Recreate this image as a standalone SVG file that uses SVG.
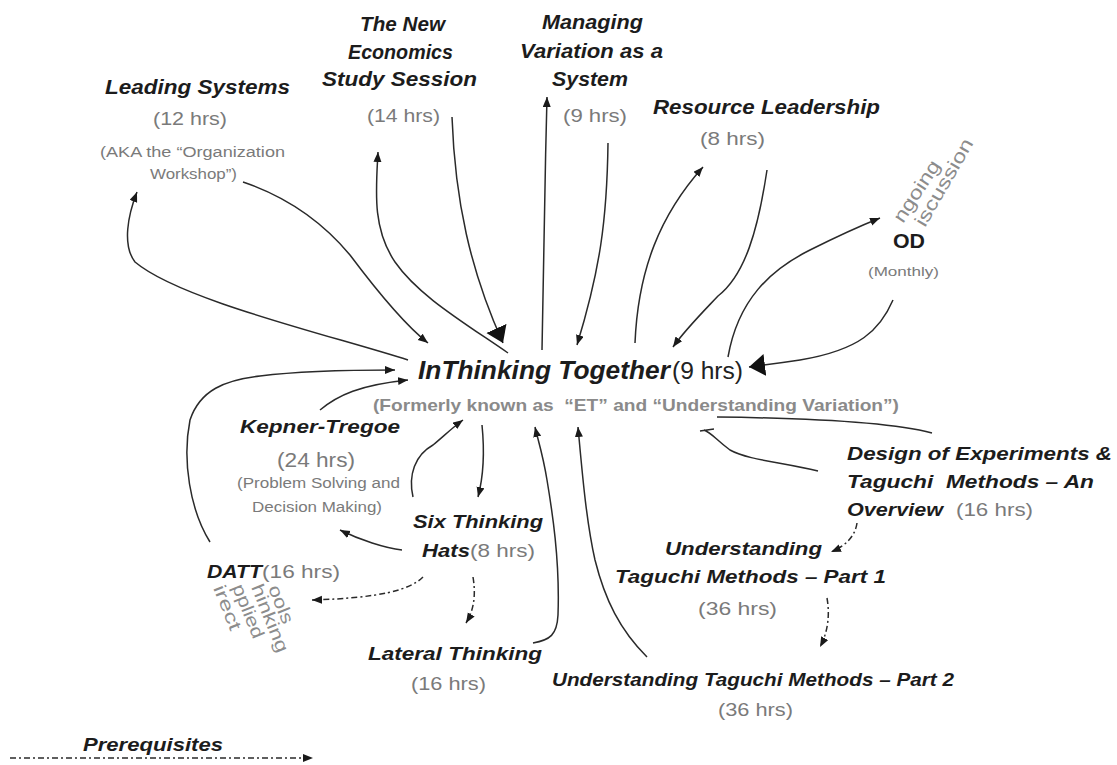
<svg xmlns="http://www.w3.org/2000/svg" width="1117" height="765" viewBox="0 0 1117 765">
<style>
text{font-family:"Liberation Sans",Arial,sans-serif}
.h{font-weight:bold;font-style:italic;fill:#1c1c1c}
.g{fill:#7a7a7a}
.gb{fill:#8a8a8a;font-weight:bold}
.k{fill:#222}
.r{fill:#8c8c8c}
.c{fill:none;stroke:#2a2a2a;stroke-width:1.5}
.dd{stroke-dasharray:6 3 2 3}
</style>
<defs>
<marker id="a" markerUnits="userSpaceOnUse" markerWidth="12" markerHeight="10" refX="10" refY="4" orient="auto"><path d="M0,0 L10,4 L0,8 z" fill="#1a1a1a"/></marker>
<marker id="b" markerUnits="userSpaceOnUse" markerWidth="20" markerHeight="24" refX="16" refY="11" orient="auto"><path d="M0,0 L16,11 L0,22 z" fill="#111"/></marker>
</defs>
<rect width="1117" height="765" fill="#fff"/>

<g id="connectors">
<path class="c" marker-end="url(#a)" d="M408,360 C330,335 180,300 135,262 C122,245 128,215 137,192"/>
<path class="c" marker-end="url(#a)" d="M243,182 C290,198 325,225 350,255 C380,295 405,325 428,343"/>
<path class="c" marker-end="url(#a)" d="M508,353 C460,320 418,295 395,262 C372,228 376,190 378,152"/>
<path class="c" marker-end="url(#b)" d="M452,117 C455,200 470,270 503,343"/>
<path class="c" marker-end="url(#a)" d="M542,350 C543,260 545,180 547,97"/>
<path class="c" marker-end="url(#a)" d="M608,143 C607,220 600,270 577,345"/>
<path class="c" marker-end="url(#a)" d="M635,343 C638,270 660,215 703,167"/>
<path class="c" marker-end="url(#a)" d="M767,170 C758,230 745,275 718,296 C700,315 685,330 673,347"/>
<path class="c" marker-end="url(#a)" d="M728,357 C738,300 770,270 810,250 C840,235 860,226 880,218"/>
<path class="c" marker-end="url(#b)" d="M893,300 C880,330 860,350 800,360 C780,363 765,365 749,367"/>
<path class="c" d="M717,417 C800,418 890,422 932,433"/>
<path class="c" d="M818,471 C780,462 748,460 730,450 C716,440 712,433 704,430 M700,431 L714,429"/>
<path class="c dd" marker-end="url(#a)" d="M857,523 C855,537 845,546 831,552"/>
<path class="c dd" marker-end="url(#a)" d="M827,598 C830,615 828,632 820,647"/>
<path class="c" marker-end="url(#a)" d="M647,657 C620,630 605,600 595,560 C586,520 582,470 578,427"/>
<path class="c" marker-end="url(#a)" d="M533,643 C550,640 557,635 558,615 C560,560 552,510 547,480 C543,455 538,440 535,427"/>
<path class="c" marker-end="url(#a)" d="M482,425 C485,455 483,478 478,497"/>
<path class="c" marker-end="url(#a)" d="M413,497 C408,475 415,455 433,445 C445,435 452,428 463,420"/>
<path class="c" marker-end="url(#a)" d="M402,550 C385,548 360,540 340,530"/>
<path class="c" marker-end="url(#a)" d="M320,410 C338,395 360,385 408,380"/>
<path class="c" marker-end="url(#a)" d="M210,542 C190,510 182,460 190,420 C200,390 225,380 260,376 C300,371 350,370 395,370"/>
<path class="c dd" marker-end="url(#a)" d="M423,577 C410,590 380,598 312,600"/>
<path class="c dd" marker-end="url(#a)" d="M473,577 C476,595 474,610 466,623"/>
<path class="c dd" marker-end="url(#a)" d="M10,758 L313,758"/>
</g>

<g id="leading-systems">
<text class="h" x="105" y="94" font-size="21" textLength="185" lengthAdjust="spacingAndGlyphs">Leading Systems</text>
<text class="g" x="153" y="125" font-size="19" textLength="74" lengthAdjust="spacingAndGlyphs">(12 hrs)</text>
<text class="g" x="100" y="157" font-size="14" textLength="185" lengthAdjust="spacingAndGlyphs">(AKA the “Organization</text>
<text class="g" x="150" y="179" font-size="14" textLength="87" lengthAdjust="spacingAndGlyphs">Workshop”)</text>
</g>

<g id="new-economics">
<text class="h" x="360" y="31" font-size="21" textLength="85" lengthAdjust="spacingAndGlyphs">The New</text>
<text class="h" x="348" y="59" font-size="21" textLength="105" lengthAdjust="spacingAndGlyphs">Economics</text>
<text class="h" x="322" y="86" font-size="21" textLength="155" lengthAdjust="spacingAndGlyphs">Study Session</text>
<text class="g" x="367" y="122" font-size="19" textLength="73" lengthAdjust="spacingAndGlyphs">(14 hrs)</text>
</g>

<g id="managing-variation">
<text class="h" x="542" y="29" font-size="20" textLength="101" lengthAdjust="spacingAndGlyphs">Managing</text>
<text class="h" x="520" y="58" font-size="20" textLength="143" lengthAdjust="spacingAndGlyphs">Variation as a</text>
<text class="h" x="552" y="86" font-size="20" textLength="76" lengthAdjust="spacingAndGlyphs">System</text>
<text class="g" x="563" y="122" font-size="19" textLength="64" lengthAdjust="spacingAndGlyphs">(9 hrs)</text>
</g>

<g id="resource-leadership">
<text class="h" x="653" y="114" font-size="20" textLength="227" lengthAdjust="spacingAndGlyphs">Resource Leadership</text>
<text class="g" x="700" y="145" font-size="19" textLength="65" lengthAdjust="spacingAndGlyphs">(8 hrs)</text>
</g>

<g id="od">
<text class="r" font-size="19" transform="translate(903,224) rotate(-57)" textLength="70" lengthAdjust="spacingAndGlyphs">ngoing</text>
<text class="r" font-size="19" transform="translate(925,228) rotate(-60)" textLength="98" lengthAdjust="spacingAndGlyphs">iscussion</text>
<text x="893" y="248" font-size="20" font-weight="bold" fill="#1c1c1c" textLength="32" lengthAdjust="spacingAndGlyphs">OD</text>
<text class="g" x="868" y="276" font-size="13" textLength="71" lengthAdjust="spacingAndGlyphs">(Monthly)</text>
</g>

<g id="inthinking-together">
<text class="h" x="418" y="379" font-size="25" textLength="252" lengthAdjust="spacingAndGlyphs">InThinking Together</text>
<text class="k" x="672" y="379" font-size="23" textLength="71" lengthAdjust="spacingAndGlyphs">(9 hrs)</text>
<text class="gb" x="373" y="411" font-size="17" textLength="526" lengthAdjust="spacingAndGlyphs" xml:space="preserve">(Formerly known as  “ET” and “Understanding Variation”)</text>
</g>

<g id="kepner-tregoe">
<text class="h" x="240" y="433" font-size="19" textLength="160" lengthAdjust="spacingAndGlyphs">Kepner-Tregoe</text>
<text class="g" x="277" y="467" font-size="20" textLength="78" lengthAdjust="spacingAndGlyphs">(24 hrs)</text>
<text class="g" x="237" y="488" font-size="14" textLength="163" lengthAdjust="spacingAndGlyphs">(Problem Solving and</text>
<text class="g" x="252" y="512" font-size="14" textLength="130" lengthAdjust="spacingAndGlyphs">Decision Making)</text>
</g>

<g id="six-thinking-hats">
<text class="h" x="413" y="528" font-size="19" textLength="130" lengthAdjust="spacingAndGlyphs">Six Thinking</text>
<text class="h" x="422" y="557" font-size="19" textLength="48" lengthAdjust="spacingAndGlyphs">Hats</text>
<text class="g" x="470" y="557" font-size="19" textLength="65" lengthAdjust="spacingAndGlyphs">(8 hrs)</text>
</g>

<g id="datt">
<text class="h" x="207" y="578" font-size="19" textLength="55" lengthAdjust="spacingAndGlyphs">DATT</text>
<text class="g" x="262" y="578" font-size="19" textLength="78" lengthAdjust="spacingAndGlyphs">(16 hrs)</text>
<text class="r" font-size="18" transform="translate(268,588) rotate(68)" textLength="40" lengthAdjust="spacingAndGlyphs">ools</text>
<text class="r" font-size="18" transform="translate(251,587) rotate(68)" textLength="72" lengthAdjust="spacingAndGlyphs">hinking</text>
<text class="r" font-size="18" transform="translate(232,587) rotate(68)" textLength="57" lengthAdjust="spacingAndGlyphs">pplied</text>
<text class="r" font-size="18" transform="translate(213,588) rotate(68)" textLength="47" lengthAdjust="spacingAndGlyphs">irect</text>
</g>

<g id="lateral-thinking">
<text class="h" x="368" y="660" font-size="19" textLength="174" lengthAdjust="spacingAndGlyphs">Lateral Thinking</text>
<text class="g" x="411" y="690" font-size="18" textLength="75" lengthAdjust="spacingAndGlyphs">(16 hrs)</text>
</g>

<g id="taguchi-part-2">
<text class="h" x="552" y="686" font-size="19" textLength="402" lengthAdjust="spacingAndGlyphs">Understanding Taguchi Methods – Part 2</text>
<text class="g" x="718" y="716" font-size="18" textLength="75" lengthAdjust="spacingAndGlyphs">(36 hrs)</text>
</g>

<g id="design-of-experiments">
<text class="h" x="847" y="460" font-size="19" textLength="265" lengthAdjust="spacingAndGlyphs">Design of Experiments &amp;</text>
<text class="h" x="847" y="488" font-size="19" textLength="247" lengthAdjust="spacingAndGlyphs" xml:space="preserve">Taguchi  Methods – An</text>
<text class="h" x="847" y="516" font-size="19" textLength="96" lengthAdjust="spacingAndGlyphs">Overview</text>
<text class="g" x="956" y="516" font-size="18" textLength="77" lengthAdjust="spacingAndGlyphs">(16 hrs)</text>
</g>

<g id="taguchi-part-1">
<text class="h" x="665" y="555" font-size="19" textLength="157" lengthAdjust="spacingAndGlyphs">Understanding</text>
<text class="h" x="615" y="583" font-size="19" textLength="271" lengthAdjust="spacingAndGlyphs">Taguchi Methods – Part 1</text>
<text class="g" x="698" y="615" font-size="18" textLength="79" lengthAdjust="spacingAndGlyphs">(36 hrs)</text>
</g>

<g id="legend">
<text class="h" x="83" y="751" font-size="18" textLength="140" lengthAdjust="spacingAndGlyphs">Prerequisites</text>
</g>
</svg>
